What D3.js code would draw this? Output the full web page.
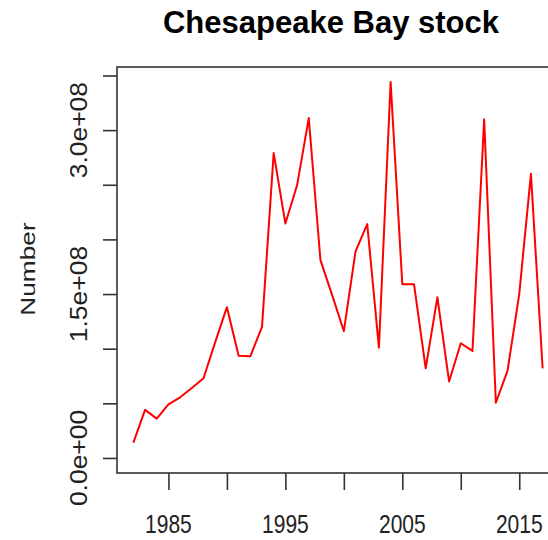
<!DOCTYPE html>
<html>
<head>
<meta charset="utf-8">
<script src="https://cdn.jsdelivr.net/npm/d3@7"></script>
<style>
  html, body { margin: 0; padding: 0; background: #fff; }
  svg { display: block; font-family: "Liberation Sans", Arial, sans-serif; }
</style>
</head>
<body>
<svg id="chart" width="548" height="540"></svg>
<script>
const title = "Chesapeake Bay stock";
const yLabel = "Number";
const years = [1982, 1983, 1984, 1985, 1986, 1987, 1988, 1989, 1990, 1991, 1992, 1993,
  1994, 1995, 1996, 1997, 1998, 1999, 2000, 2001, 2002, 2003, 2004, 2005,
  2006, 2007, 2008, 2009, 2010, 2011, 2012, 2013, 2014, 2015, 2016, 2017];
const stock = [1.4e7, 4.4e7, 3.6e7, 4.9e7, 5.55e7, 6.4e7, 7.3e7, 1.06e8, 1.38e8, 9.35e7, 9.3e7, 1.2e8,
  2.79e8, 2.145e8, 2.495e8, 3.11e8, 1.81e8, 1.49e8, 1.16e8, 1.89e8, 2.14e8, 1.01e8, 3.44e8, 1.59e8,
  1.59e8, 8.2e7, 1.47e8, 7.0e7, 1.05e8, 9.8e7, 3.10e8, 5.05e7, 8.0e7, 1.5e8, 2.60e8, 8.2e7];
const xTicks = [1985, 1990, 1995, 2000, 2005, 2010, 2015];
const xTickLabels = ["1985", "", "1995", "", "2005", "", "2015"];
const yTicks = [0, 5e7, 1e8, 1.5e8, 2e8, 2.5e8, 3e8, 3.5e8];
const yTickLabels = ["0.0e+00", "", "", "1.5e+08", "", "", "3.0e+08", ""];

(function () {
const svg = d3.select("#chart");
const mLeft = 117, mTop = 67, mBottom = 473, mRight = 559;
const axisColor = "#333";

function padded(ext) {
  const p = (ext[1] - ext[0]) * 0.04;
  return [ext[0] - p, ext[1] + p];
}
const x = d3.scaleLinear().domain(padded(d3.extent(years))).range([mLeft, mRight]);
const y = d3.scaleLinear().domain(padded([0, d3.max(stock)])).range([mBottom, mTop]);

// box
svg.append("rect")
  .attr("x", mLeft).attr("y", mTop)
  .attr("width", mRight - mLeft).attr("height", mBottom - mTop)
  .attr("fill", "none").attr("stroke", axisColor).attr("stroke-width", 1.6);

// x axis ticks
const xAxis = svg.append("g").attr("transform", `translate(0,${mBottom})`)
  .call(d3.axisBottom(x).tickValues(xTicks).tickSize(17).tickSizeOuter(0).tickFormat(""));
xAxis.select(".domain").remove();
xAxis.selectAll(".tick line").attr("stroke", axisColor).attr("stroke-width", 1.6);
xAxis.selectAll(".tick text").remove();
svg.append("g").selectAll("text")
  .data(xTicks)
  .join("text")
  .attr("transform", d => `translate(${x(d)},533) scale(1,1.25)`)
  .attr("text-anchor", "middle")
  .attr("font-size", 21)
  .attr("fill", "#222")
  .text((d, i) => xTickLabels[i]);

// y axis ticks
const yAxis = svg.append("g").attr("transform", `translate(${mLeft},0)`)
  .call(d3.axisLeft(y).tickValues(yTicks).tickSize(14).tickSizeOuter(0).tickFormat(""));
yAxis.select(".domain").remove();
yAxis.selectAll(".tick line").attr("stroke", axisColor).attr("stroke-width", 1.6);
yAxis.selectAll(".tick text").remove();
svg.append("g").selectAll("text")
  .data(yTicks)
  .join("text")
  .attr("transform", d => `translate(87,${y(d)}) rotate(-90) scale(1.15,1)`)
  .attr("text-anchor", "middle")
  .attr("font-size", 23)
  .attr("fill", "#222")
  .text((d, i) => yTickLabels[i]);

// line
const line = d3.line().x((d, i) => x(years[i])).y(d => y(d));
svg.append("path")
  .datum(stock)
  .attr("d", line)
  .attr("fill", "none")
  .attr("stroke", "#ff0000")
  .attr("stroke-width", 2)
  .attr("stroke-linejoin", "round");

// y label
svg.append("text")
  .attr("transform", `translate(35,269) rotate(-90) scale(1.25,1)`)
  .attr("text-anchor", "middle")
  .attr("font-size", 21)
  .attr("fill", "#222")
  .text(yLabel);

// title
svg.append("text")
  .attr("x", 331).attr("y", 33)
  .attr("text-anchor", "middle")
  .attr("font-size", 31)
  .attr("font-weight", "bold")
  .attr("fill", "#000")
  .text(title);
})();
</script>
</body>
</html>
